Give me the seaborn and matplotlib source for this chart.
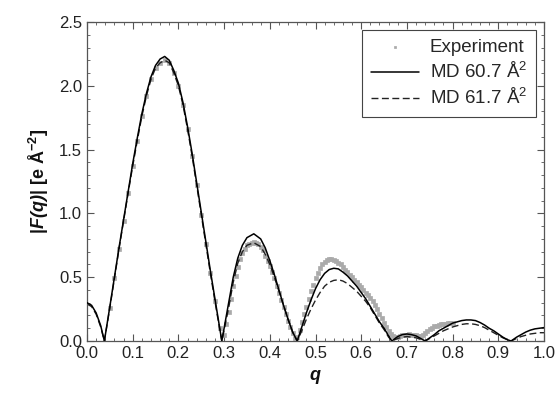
import numpy as np
import pandas as pd
import matplotlib
matplotlib.use("Agg")
import matplotlib.pyplot as plt
import seaborn as sns

# ---- data ----
q_md = [0.000, 0.010, 0.020, 0.030, 0.038,
        0.050, 0.060, 0.070, 0.080, 0.090, 0.100, 0.110, 0.120, 0.130, 0.140,
        0.150, 0.160, 0.170, 0.180, 0.190, 0.200, 0.210, 0.220, 0.230, 0.240,
        0.250, 0.260, 0.270, 0.280, 0.290, 0.295,
        0.310, 0.320, 0.330, 0.340, 0.350, 0.365, 0.380, 0.390, 0.400, 0.410,
        0.420, 0.430, 0.440, 0.450, 0.460,
        0.470, 0.480, 0.490, 0.500, 0.510, 0.520, 0.530, 0.540, 0.550, 0.560,
        0.570, 0.580, 0.590, 0.600, 0.610, 0.620, 0.630, 0.640, 0.650, 0.660, 0.667,
        0.680, 0.690, 0.700, 0.710, 0.720, 0.730, 0.740,
        0.750, 0.760, 0.770, 0.780, 0.790, 0.800, 0.810, 0.820, 0.830, 0.840,
        0.850, 0.860, 0.870, 0.880, 0.890, 0.900, 0.910, 0.920, 0.928,
        0.940, 0.950, 0.960, 0.970, 0.980, 0.990, 1.000]

md_607 = [0.30, 0.28, 0.22, 0.12, 0.00,
          0.27, 0.50, 0.73, 0.95, 1.17, 1.39, 1.59, 1.78, 1.94, 2.07,
          2.16, 2.21, 2.23, 2.20, 2.12, 2.02, 1.87, 1.68, 1.47, 1.24,
          1.01, 0.78, 0.55, 0.33, 0.11, 0.00,
          0.30, 0.50, 0.65, 0.75, 0.81, 0.84, 0.80, 0.73, 0.63, 0.52,
          0.40, 0.28, 0.17, 0.07, 0.00,
          0.11, 0.22, 0.32, 0.41, 0.48, 0.53, 0.56, 0.57, 0.565, 0.54,
          0.51, 0.47, 0.43, 0.38, 0.33, 0.27, 0.21, 0.15, 0.10, 0.04, 0.00,
          0.035, 0.05, 0.055, 0.05, 0.04, 0.02, 0.00,
          0.025, 0.05, 0.08, 0.10, 0.12, 0.14, 0.15, 0.16, 0.165, 0.165,
          0.16, 0.145, 0.125, 0.10, 0.08, 0.055, 0.03, 0.01, 0.00,
          0.03, 0.05, 0.07, 0.085, 0.095, 0.10, 0.105]

md_617 = [0.29, 0.27, 0.21, 0.11, 0.00,
          0.26, 0.49, 0.72, 0.94, 1.16, 1.37, 1.57, 1.76, 1.92, 2.05,
          2.14, 2.18, 2.20, 2.18, 2.10, 2.00, 1.85, 1.66, 1.45, 1.22,
          0.99, 0.76, 0.53, 0.31, 0.10, 0.00,
          0.26, 0.46, 0.61, 0.70, 0.75, 0.77, 0.74, 0.68, 0.60, 0.50,
          0.39, 0.28, 0.17, 0.07, 0.00,
          0.08, 0.17, 0.25, 0.32, 0.38, 0.43, 0.46, 0.475, 0.48, 0.47,
          0.45, 0.42, 0.39, 0.35, 0.31, 0.26, 0.20, 0.14, 0.09, 0.03, 0.00,
          0.02, 0.03, 0.035, 0.03, 0.025, 0.012, 0.00,
          0.02, 0.04, 0.06, 0.08, 0.095, 0.11, 0.12, 0.13, 0.135, 0.135,
          0.13, 0.12, 0.105, 0.085, 0.065, 0.045, 0.025, 0.01, 0.00,
          0.02, 0.035, 0.045, 0.055, 0.06, 0.065, 0.065]

q_exp = [0.050, 0.060, 0.070, 0.080, 0.090, 0.100, 0.110, 0.120, 0.130,
         0.140, 0.150, 0.160, 0.170, 0.180, 0.190, 0.200, 0.210, 0.220, 0.230,
         0.240, 0.250, 0.260, 0.270, 0.280, 0.290,
         0.300, 0.305, 0.310, 0.315, 0.320, 0.325, 0.330, 0.335, 0.340, 0.345,
         0.350, 0.355, 0.360, 0.365, 0.370, 0.375, 0.380, 0.385, 0.390, 0.395,
         0.400, 0.405, 0.410, 0.415, 0.420, 0.425, 0.430, 0.435, 0.440, 0.445,
         0.450, 0.455, 0.460, 0.465, 0.470, 0.475, 0.480, 0.485, 0.490, 0.495,
         0.500, 0.505, 0.510, 0.515, 0.520, 0.525, 0.530, 0.535, 0.540, 0.545,
         0.550, 0.555, 0.560, 0.565, 0.570, 0.575, 0.580, 0.585, 0.590, 0.595,
         0.600, 0.605, 0.610, 0.615, 0.620, 0.625, 0.630, 0.635, 0.640, 0.645,
         0.650, 0.655, 0.660, 0.665, 0.670, 0.675, 0.680, 0.685, 0.690, 0.695,
         0.700, 0.705, 0.710, 0.715, 0.720, 0.725, 0.730, 0.735, 0.740, 0.745,
         0.750, 0.755, 0.760, 0.765, 0.770, 0.775, 0.780, 0.785, 0.790, 0.795,
         0.800]

exp_val = [0.26, 0.49, 0.72, 0.94, 1.16, 1.37, 1.57, 1.76, 1.92,
           2.05, 2.14, 2.18, 2.20, 2.18, 2.10, 2.00, 1.85, 1.66, 1.45,
           1.22, 0.99, 0.76, 0.53, 0.31, 0.10,
           0.05, 0.13, 0.23, 0.33, 0.43, 0.51, 0.58, 0.64, 0.69, 0.72,
           0.75, 0.76, 0.77, 0.775, 0.77, 0.76, 0.74, 0.71, 0.67, 0.63,
           0.59, 0.54, 0.49, 0.43, 0.38, 0.32, 0.27, 0.21, 0.16, 0.11,
           0.06, 0.02, 0.03, 0.09, 0.15, 0.21, 0.27, 0.33, 0.39, 0.44,
           0.49, 0.53, 0.57, 0.60, 0.62, 0.635, 0.64, 0.64, 0.635, 0.625,
           0.61, 0.60, 0.58, 0.56, 0.54, 0.52, 0.50, 0.48, 0.46, 0.44,
           0.42, 0.40, 0.38, 0.36, 0.34, 0.31, 0.28, 0.25, 0.21, 0.18,
           0.14, 0.11, 0.08, 0.055, 0.04, 0.035, 0.035, 0.04, 0.045, 0.05,
           0.05, 0.055, 0.05, 0.05, 0.045, 0.04, 0.04, 0.045, 0.06, 0.08,
           0.095, 0.105, 0.115, 0.12, 0.125, 0.13, 0.135, 0.135, 0.14, 0.14,
           0.14]

labels = ["Experiment", "MD 60.7 Å$^2$", "MD 61.7 Å$^2$"]

# ---- styling ----
sns.set_theme(style="ticks")
plt.rcParams["font.family"] = ["Liberation Sans", "DejaVu Sans"]
plt.rcParams["mathtext.fontset"] = "custom"
plt.rcParams["mathtext.rm"] = "Liberation Sans"
plt.rcParams["mathtext.it"] = "Liberation Sans:italic"
plt.rcParams["mathtext.bf"] = "Liberation Sans:bold"
plt.rcParams["mathtext.bfit"] = "Liberation Sans:bold:italic"

fig = plt.figure(figsize=(5.59, 3.95), dpi=100)
ax = fig.add_axes([87 / 559, 1 - 341 / 395, 457 / 559, 319 / 395])

df_exp = pd.DataFrame({"q": q_exp, "F": exp_val})
df_md = pd.DataFrame({"q": q_md + q_md,
                      "F": md_607 + md_617,
                      "set": [labels[1]] * len(q_md) + [labels[2]] * len(q_md)})

sns.scatterplot(data=df_exp, x="q", y="F", ax=ax, marker="s", s=9,
                color="#aaaaaa", edgecolor="#aaaaaa", linewidth=0.5,
                label=labels[0], zorder=1)
sns.lineplot(data=df_md[df_md["set"] == labels[1]], x="q", y="F", ax=ax,
             color="black", linewidth=1.1, label=labels[1], zorder=3)
sns.lineplot(data=df_md[df_md["set"] == labels[2]], x="q", y="F", ax=ax,
             color="#222222", linewidth=1.0, linestyle=(0, (5, 2.5)),
             label=labels[2], zorder=2)

ax.set_xlim(0, 1.0)
ax.set_ylim(0, 2.5)
ax.set_xticks(np.arange(0, 1.01, 0.1))
ax.set_yticks(np.arange(0, 2.51, 0.5))
ax.set_xticks(np.arange(0, 1.001, 0.02), minor=True)
ax.set_yticks(np.arange(0, 2.501, 0.1), minor=True)
ax.xaxis.set_major_formatter(matplotlib.ticker.FormatStrFormatter("%.1f"))
ax.yaxis.set_major_formatter(matplotlib.ticker.FormatStrFormatter("%.1f"))

ax.tick_params(which="both", direction="in", top=True, right=True,
               colors="#555555", labelcolor="#222222", labelsize=12)
ax.tick_params(which="major", length=5, width=0.8)
ax.tick_params(which="minor", length=2.5, width=0.6)
for sp in ax.spines.values():
    sp.set_color("#555555")
    sp.set_linewidth(0.9)

ax.set_xlabel(r"$\mathbfit{q}$", fontsize=13, color="#111111", labelpad=5)
ax.set_ylabel(r"$\mathbf{|}\mathbfit{F(q)}\mathbf{|\ [e\ Å^{-2}]}$",
              fontsize=13, color="#111111", labelpad=6)

leg = ax.legend(loc="upper right", fontsize=13.5, frameon=True, fancybox=False,
                edgecolor="#444444", framealpha=1, borderpad=0.45,
                handlelength=2.6, handletextpad=0.55, labelspacing=0.32,
                borderaxespad=0.45, markerscale=0.6)
leg.get_frame().set_linewidth(0.8)

fig.savefig("out.png", dpi=100)
